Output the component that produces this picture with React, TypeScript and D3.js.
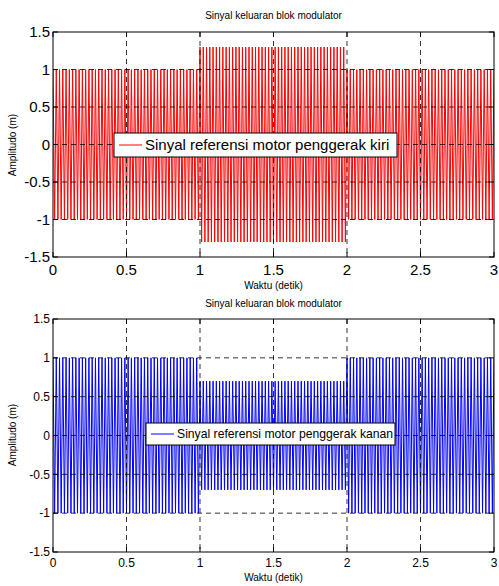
import React, { useEffect, useRef } from 'react';
import * as d3 from 'd3';

// segment boundaries (detik) and amplitudo per segment
const timeBreaks = [0, 1, 2, 3];
const leftAmplitude = [1, 1.3, 1];
const rightAmplitude = [1, 0.7, 1];
const cyclesPerSecond = 45;

const xTicks = [0, 0.5, 1, 1.5, 2, 2.5, 3];
const yTicks = [-1.5, -1, -0.5, 0, 0.5, 1, 1.5];

const titleText = 'Sinyal keluaran blok modulator';
const xLabelText = 'Waktu (detik)';
const yLabelText = 'Amplitudo (m)';
const legendLeft = 'Sinyal referensi motor penggerak kiri';
const legendRight = 'Sinyal referensi motor penggerak kanan';

const FONT = 'Arial, "Liberation Sans", Helvetica, sans-serif';

// peaks of the carrier, alternating +A / -A each half period
function buildPeaks(amps) {
  const pts = [];
  const half = 1 / cyclesPerSecond / 2;
  amps.forEach((a, i) => {
    const t0 = timeBreaks[i];
    const t1 = timeBreaks[i + 1];
    const n = Math.round((t1 - t0) / half);
    for (let k = 0; k < n; k++) {
      pts.push([t0 + k * half, k % 2 === 0 ? a : -a]);
    }
  });
  pts.push([3, amps[amps.length - 1]]);
  return pts;
}

const App = () => {
  const svgRef = useRef(null);

  useEffect(() => {
    const svg = d3.select(svgRef.current);
    svg.selectAll('*').remove();

    const panels = [
      {
        amps: leftAmplitude, color: '#ff0000', legend: legendLeft,
        top: 32, bottom: 257, titleY: 19, tickFont: 15, tickY: 275, xLabelY: 289, yLabelY: 145,
        legendBox: { x: 114, y: 133, w: 283, h: 24 }, legendFont: 15,
      },
      {
        amps: rightAmplitude, color: '#0000ff', legend: legendRight,
        top: 319, bottom: 552, titleY: 307, tickFont: 12, tickY: 567, xLabelY: 581, yLabelY: 435,
        legendBox: { x: 146, y: 423, w: 249, h: 22 }, legendFont: 12.2,
      },
    ];

    const left = 53;
    const right = 494;

    panels.forEach((p, idx) => {
      const x = d3.scaleLinear().domain([0, 3]).range([left, right]);
      const y = d3.scaleLinear().domain([-1.5, 1.5]).range([p.bottom, p.top]);
      const g = svg.append('g');

      g.append('rect')
        .attr('x', left).attr('y', p.top)
        .attr('width', right - left).attr('height', p.bottom - p.top)
        .attr('fill', '#fff');

      const clipId = 'clip' + idx;
      g.append('clipPath').attr('id', clipId)
        .append('rect')
        .attr('x', left).attr('y', p.top)
        .attr('width', right - left).attr('height', p.bottom - p.top);

      const line = d3.line().x(d => x(d[0])).y(d => y(d[1]));
      g.append('path')
        .datum(buildPeaks(p.amps))
        .attr('clip-path', `url(#${clipId})`)
        .attr('d', line)
        .attr('fill', 'none')
        .attr('stroke', p.color)
        .attr('stroke-width', 1);

      // grid
      const grid = g.append('g')
        .attr('stroke', '#000')
        .attr('stroke-width', 0.8)
        .attr('stroke-dasharray', '5,4');
      xTicks.slice(1, -1).forEach(t => {
        grid.append('line')
          .attr('x1', x(t)).attr('x2', x(t))
          .attr('y1', p.top).attr('y2', p.bottom);
      });
      yTicks.slice(1, -1).forEach(t => {
        grid.append('line')
          .attr('x1', left).attr('x2', right)
          .attr('y1', y(t)).attr('y2', y(t));
      });

      // ticks (inward on all four sides)
      const tk = g.append('g').attr('stroke', '#000').attr('stroke-width', 1);
      xTicks.forEach(t => {
        tk.append('line').attr('x1', x(t)).attr('x2', x(t)).attr('y1', p.bottom).attr('y2', p.bottom - 5);
        tk.append('line').attr('x1', x(t)).attr('x2', x(t)).attr('y1', p.top).attr('y2', p.top + 5);
      });
      yTicks.forEach(t => {
        tk.append('line').attr('x1', left).attr('x2', left + 5).attr('y1', y(t)).attr('y2', y(t));
        tk.append('line').attr('x1', right).attr('x2', right - 5).attr('y1', y(t)).attr('y2', y(t));
      });

      g.append('rect')
        .attr('x', left).attr('y', p.top)
        .attr('width', right - left).attr('height', p.bottom - p.top)
        .attr('fill', 'none').attr('stroke', '#000').attr('stroke-width', 1);

      // tick labels
      g.selectAll('.xt').data(xTicks).enter().append('text')
        .attr('x', d => x(d)).attr('y', p.tickY)
        .attr('text-anchor', 'middle')
        .style('font-family', FONT).style('font-size', p.tickFont + 'px')
        .text(d => String(d));
      g.selectAll('.yt').data(yTicks).enter().append('text')
        .attr('x', left - 3).attr('y', d => y(d))
        .attr('dy', '0.35em')
        .attr('text-anchor', 'end')
        .style('font-family', FONT).style('font-size', p.tickFont + 'px')
        .text(d => String(d));

      // title and axis labels
      g.append('text')
        .attr('x', (left + right) / 2).attr('y', p.titleY)
        .attr('text-anchor', 'middle')
        .style('font-family', FONT).style('font-size', '10px')
        .text(titleText);
      g.append('text')
        .attr('x', (left + right) / 2).attr('y', p.xLabelY)
        .attr('text-anchor', 'middle')
        .style('font-family', FONT).style('font-size', '10px')
        .text(xLabelText);
      g.append('text')
        .attr('transform', `translate(16, ${p.yLabelY}) rotate(-90)`)
        .attr('text-anchor', 'middle')
        .style('font-family', FONT).style('font-size', '10px')
        .text(yLabelText);

      // legend
      const lb = p.legendBox;
      g.append('rect')
        .attr('x', lb.x).attr('y', lb.y).attr('width', lb.w).attr('height', lb.h)
        .attr('fill', '#fff').attr('stroke', '#000').attr('stroke-width', 1);
      g.append('line')
        .attr('x1', lb.x + 5).attr('x2', lb.x + 28)
        .attr('y1', lb.y + lb.h / 2).attr('y2', lb.y + lb.h / 2)
        .attr('stroke', p.color).attr('stroke-width', 1);
      g.append('text')
        .attr('x', lb.x + 31).attr('y', lb.y + lb.h / 2)
        .attr('dy', '0.36em')
        .style('font-family', FONT).style('font-size', p.legendFont + 'px')
        .text(p.legend);
    });
  }, []);

  return (
    <svg ref={svgRef} width={499} height={586}
      style={{ position: 'absolute', left: 0, top: 0, background: '#fff' }} />
  );
};

export default App;
